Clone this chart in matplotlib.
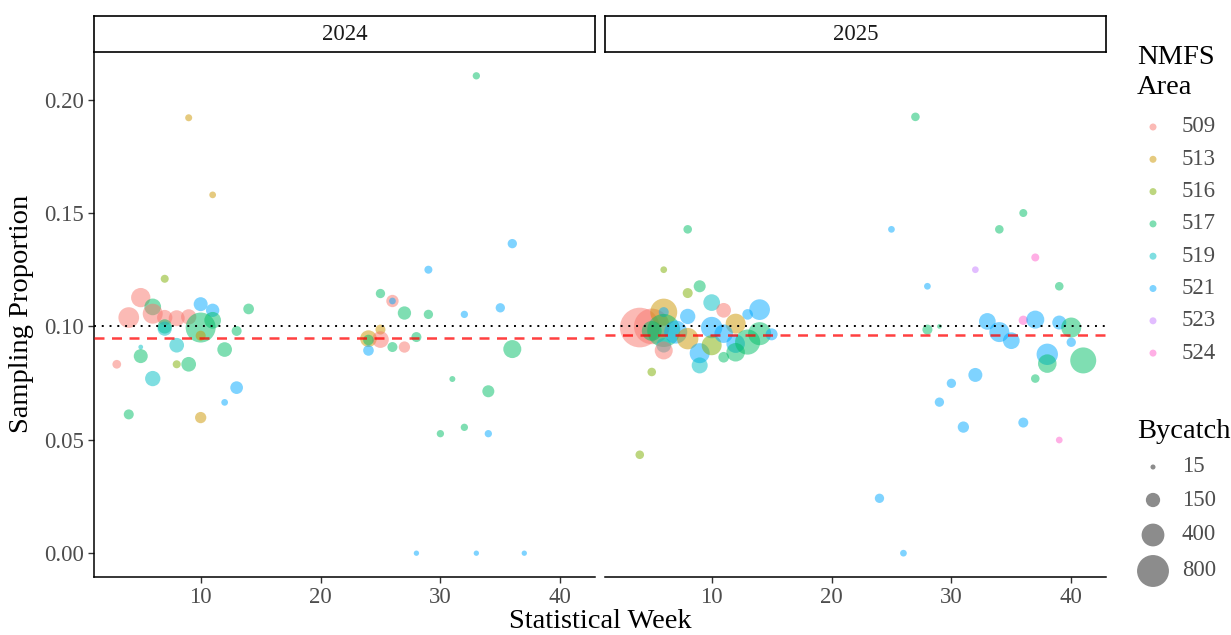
import numpy as np
import matplotlib
matplotlib.use('Agg')
import matplotlib.pyplot as plt

plt.rcParams['font.family'] = ['Liberation Serif', 'DejaVu Serif']

# categories
years = ['2024', '2025']
areas = ['509', '513', '516', '517', '519', '521', '523', '524']
area_colors = ['#F8766D', '#CD9600', '#7CAE00', '#00BE67',
               '#00BFC4', '#00A9FF', '#C77CFF', '#FF61CC']
size_breaks = [15, 150, 400, 800]

# 2024 observations
week_2024 = [9, 11, 7, 5, 6, 6, 4, 7, 8, 9, 10, 11, 10, 11, 7, 7, 14, 13, 10, 5,
             8, 5, 3, 8, 9, 12, 6, 13, 12, 4, 10,
             33, 36, 29, 25, 26, 26, 27, 29, 32, 35, 25, 24, 25, 24, 24, 26, 27,
             28, 36, 31, 34, 30, 32, 34, 28, 33, 37]
prop_2024 = [0.192, 0.158, 0.121, 0.1127, 0.1086, 0.1056, 0.1039, 0.1039, 0.1036,
             0.1042, 0.1098, 0.1071, 0.0995, 0.1027, 0.1, 0.099, 0.1077, 0.098,
             0.0959, 0.0909, 0.0917, 0.0869, 0.0833, 0.0833, 0.0833, 0.0898,
             0.077, 0.073, 0.0665, 0.0612, 0.0598,
             0.2105, 0.1365, 0.125, 0.1145, 0.1112, 0.1112, 0.1059, 0.1053,
             0.1053, 0.1082, 0.0986, 0.0946, 0.0942, 0.094, 0.0894, 0.0909,
             0.0909, 0.0953, 0.09, 0.0768, 0.0714, 0.0527, 0.0555, 0.0527,
             0.0, 0.0, 0.0]
area_2024 = ['513', '513', '516', '509', '517', '509', '509', '509', '509', '509',
             '521', '521', '517', '517', '517', '519', '517', '517', '513', '519',
             '519', '517', '509', '516', '517', '517', '519', '521', '521', '517',
             '513',
             '517', '521', '521', '517', '509', '521', '517', '517', '521', '521',
             '513', '513', '509', '517', '521', '517', '509', '517', '517', '517',
             '517', '517', '517', '521', '521', '521', '521']
bycatch_2024 = [32, 29, 43, 283, 209, 305, 327, 174, 191, 174, 144, 130, 705, 209,
                150, 150, 81, 70, 70, 13, 159, 144, 52, 43, 159, 159, 174, 117, 29,
                70, 91,
                35, 60, 43, 60, 110, 29, 130, 60, 35, 60, 70, 209, 209, 80, 80, 70,
                91, 70, 245, 22, 104, 35, 35, 35, 17, 17, 17]

# 2025 observations
week_2025 = [8, 6, 8, 9, 10, 11, 8, 13, 14, 12, 4, 5, 6, 6, 6, 5, 7, 8, 6, 6, 9, 9,
             10, 10, 11, 11, 12, 12, 13, 14, 15, 5, 4,
             27, 36, 25, 34, 37, 32, 28, 39, 33, 36, 37, 39, 40, 28, 29, 34, 35,
             40, 38, 38, 41, 37, 32, 30, 29, 31, 36, 39, 24, 26]
prop_2025 = [0.1428, 0.125, 0.1147, 0.1177, 0.1105, 0.1071, 0.1044, 0.1053, 0.1074,
             0.1012, 0.0995, 0.1, 0.1063, 0.1063, 0.0982, 0.098, 0.0975, 0.0946,
             0.0917, 0.0894, 0.0882, 0.0828, 0.0995, 0.0917, 0.0968, 0.0864,
             0.0924, 0.0886, 0.0931, 0.0968, 0.0965, 0.0799, 0.0434,
             0.1924, 0.15, 0.1428, 0.1428, 0.1304, 0.125, 0.1177, 0.1177, 0.1022,
             0.1027, 0.103, 0.1017, 0.0995, 0.0986, 0.1, 0.0975, 0.0937, 0.093,
             0.0877, 0.0836, 0.085, 0.077, 0.0786, 0.0749, 0.0666, 0.0556,
             0.0576, 0.0499, 0.0242, 0.0]
area_2025 = ['517', '516', '516', '517', '519', '509', '521', '521', '521', '513',
             '509', '509', '513', '521', '517', '517', '521', '513', '519', '509',
             '521', '519', '521', '516', '521', '517', '521', '517', '517', '517',
             '521', '516', '516',
             '517', '517', '521', '517', '524', '523', '521', '517', '521', '524',
             '521', '521', '517', '517', '517', '521', '521', '521', '521', '517',
             '517', '517', '521', '521', '521', '521', '521', '524', '521', '521']
bycatch_2025 = [50, 29, 70, 104, 209, 159, 174, 80, 327, 305, 1250, 1000, 567, 70,
                860, 300, 410, 350, 159, 245, 305, 191, 350, 305, 260, 80, 260, 260,
                490, 410, 104, 50, 50,
                50, 43, 29, 50, 43, 29, 29, 50, 209, 60, 245, 144, 305, 70, 12, 305,
                209, 60, 350, 260, 525, 50, 144, 60, 60, 91, 70, 29, 60, 29]

mean_line = [0.095, 0.096]
target = 0.10

data = {
    '2024': (week_2024, prop_2024, area_2024, bycatch_2024),
    '2025': (week_2025, prop_2025, area_2025, bycatch_2025),
}

W, H = 1231, 635
fig = plt.figure(figsize=(W / 100, H / 100), dpi=100)


def px_box(x0, y0, x1, y1):
    return [x0 / W, 1 - y1 / H, (x1 - x0) / W, (y1 - y0) / H]


def dot_size(v):
    d = 0.8 + 1.1 * np.sqrt(np.asarray(v, dtype=float))
    return (d * 0.72) ** 2


color_of = dict(zip(areas, area_colors))
panels = [(94, 595), (605, 1106)]
tick_col = '#4D4D4D'

for i, yr in enumerate(years):
    x0, x1 = panels[i]
    ax = fig.add_axes(px_box(x0, 52, x1, 577))
    wk, pr, ar, bc = data[yr]
    ax.scatter(wk, pr, s=dot_size(bc), c=[color_of[a] for a in ar],
               alpha=0.5, linewidths=0, zorder=2)
    ax.axhline(target, color='black', lw=1.4, dashes=(1, 3), zorder=3)
    ax.axhline(mean_line[i], color='red', alpha=0.75, lw=1.8,
               dashes=(4, 3), zorder=3)
    ax.set_xlim(1.1, 42.9)
    ax.set_ylim(-0.0105, 0.221)
    ax.set_xticks([10, 20, 30, 40])
    ax.set_yticks([0, 0.05, 0.10, 0.15, 0.20])
    ax.set_yticklabels(['0.00', '0.05', '0.10', '0.15', '0.20'])
    for s in ['top', 'right']:
        ax.spines[s].set_visible(False)
    ax.spines['bottom'].set_linewidth(1.1)
    ax.spines['left'].set_linewidth(1.1)
    ax.tick_params(length=4, width=1.0, color='#333333', labelsize=16.4,
                   labelcolor=tick_col, pad=3)
    if i == 1:
        ax.spines['left'].set_visible(False)
        ax.tick_params(axis='y', left=False, labelleft=False)

    st = fig.add_axes(px_box(x0, 16, x1, 52))
    st.set_xticks([])
    st.set_yticks([])
    for s in st.spines.values():
        s.set_linewidth(1.2)
    st.text(0.5, 0.5, yr, ha='center', va='center', fontsize=16.4,
            color='#1A1A1A', transform=st.transAxes)

fig.text(600 / W, 1 - 622 / H, 'Statistical Week', ha='center', va='center',
         fontsize=20.5)
fig.text(22 / W, 1 - 314 / H, 'Sampling Proportion', ha='center', va='center',
         rotation=90, fontsize=20.5)

# legends drawn by hand in pixel space
lg = fig.add_axes([0, 0, 1, 1], zorder=5)
lg.set_xlim(0, W)
lg.set_ylim(H, 0)
lg.axis('off')

lg.text(1137, 58, 'NMFS', ha='left', va='center', fontsize=20.5)
lg.text(1137, 88, 'Area', ha='left', va='center', fontsize=20.5)
area_rows = 127 + 32.3 * np.arange(len(areas))
lg.scatter(np.full(len(areas), 1153), area_rows, s=(7 * 0.72) ** 2,
           c=area_colors, alpha=0.5, linewidths=0)
for yy, a in zip(area_rows, areas):
    lg.text(1182, yy, a, ha='left', va='center', fontsize=16.4, color=tick_col)

lg.text(1137, 431, 'Bycatch', ha='left', va='center', fontsize=20.5)
size_rows = [467, 500, 535, 571]
lg.scatter(np.full(len(size_breaks), 1153), size_rows, s=dot_size(size_breaks),
           c='black', alpha=0.45, linewidths=0)
for yy, b in zip(size_rows, size_breaks):
    lg.text(1182, yy, str(b), ha='left', va='center', fontsize=16.4,
            color=tick_col)

fig.savefig('out.png', dpi=100)
